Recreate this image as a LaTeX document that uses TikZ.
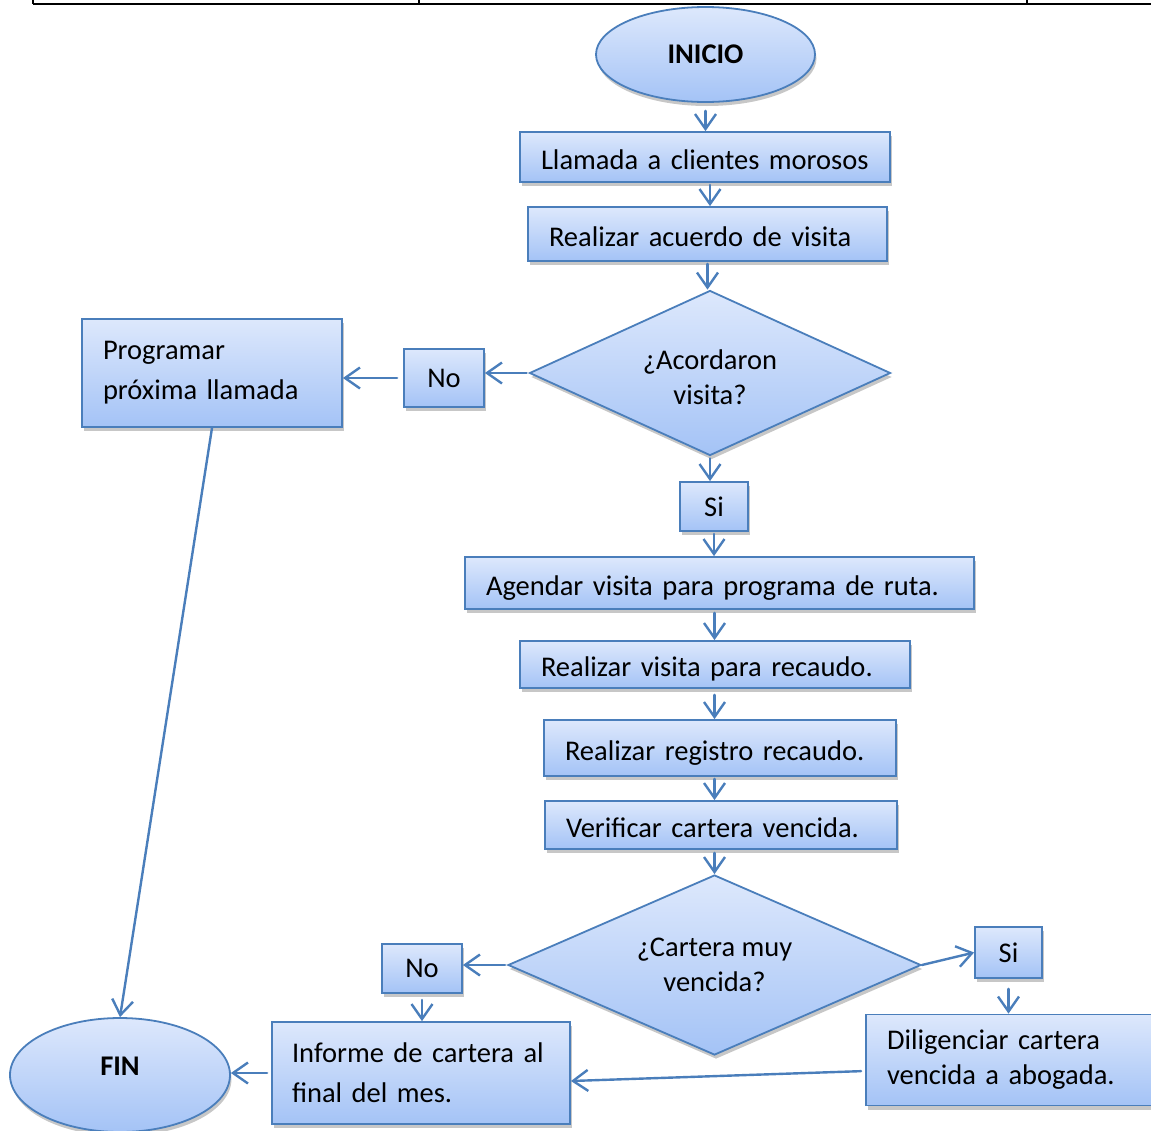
\documentclass[tikz,border=0pt]{standalone}
\usepackage{fontspec}
\setmainfont{Carlito}
\usetikzlibrary{shapes.geometric,arrows.meta,shadows}
\definecolor{edge}{RGB}{74,126,187}
\definecolor{filltop}{RGB}{221,232,252}
\definecolor{fillbot}{RGB}{164,195,246}
\begin{document}
\begin{tikzpicture}[x=1pt,y=-1pt,
  every node/.style={font=\fontsize{28.5}{40}\selectfont},
  base/.style={draw=edge, line width=1.8pt, top color=filltop, bottom color=fillbot,
    drop shadow={shadow xshift=1.5pt, shadow yshift=-4pt, fill=black, opacity=0.22},
    inner sep=0pt},
  proc/.style={base, rectangle, align=left},
  oneline/.style={text height=24pt, text depth=0pt},
  tag/.style={base, rectangle},
  decision/.style={base, diamond, aspect=2.2, align=center, font=\fontsize{28.5}{35}\selectfont},
  terminal/.style={base, ellipse, font=\bfseries\fontsize{28.5}{35}\selectfont},
  arr/.style={draw=edge, line width=2.4pt, line cap=round, line join=round,
    -{Straight Barb[length=15pt,width=21pt]}},
]
\useasboundingbox (0,0) rectangle (1151,1130);

% table border running along the top
\draw[line width=2.2pt] (33,4) -- (1151,4);
\foreach \xx in {33,419,1027} \draw[line width=2pt] (\xx,0) -- (\xx,4);

% start / end
\node[terminal, minimum width=219pt, minimum height=95pt] (inicio) at (705.5,54.5) {INICIO};
\node[terminal, minimum width=220pt, minimum height=114pt, text height=10pt, text depth=10pt] (fin) at (120,1075) {FIN};

% main column
\node[proc, oneline, minimum width=370pt, minimum height=50pt, text width=328pt] (llamada) at (705,157) {\mbox{Llamada a clientes morosos}};
\node[proc, oneline, minimum width=359pt, minimum height=54pt, text width=317pt] (acuerdo) at (707.5,234) {\mbox{Realizar acuerdo de visita}};
\node[decision, minimum width=361pt, minimum height=165pt] (d1) at (710,373) {\rule{0pt}{28pt}¿Acordaron\\visita?};
\node[tag, minimum width=80pt, minimum height=58pt] (no1) at (444,378) {No};
\node[proc, minimum width=260pt, minimum height=108pt, text width=218pt] (prog) at (212,373) {\mbox{Programar}\\\mbox{próxima llamada}};
\node[tag, minimum width=68pt, minimum height=49pt] (si1) at (714,506.5) {Si};
\node[proc, oneline, minimum width=509pt, minimum height=52pt, text width=467pt] (agendar) at (719.5,583) {\mbox{Agendar visita para programa de ruta.}};
\node[proc, oneline, minimum width=390pt, minimum height=47pt, text width=348pt] (rv) at (715,664.5) {\mbox{Realizar visita para recaudo.}};
\node[proc, oneline, minimum width=352pt, minimum height=56pt, text width=310pt] (rr) at (720,748) {\mbox{Realizar registro recaudo.}};
\node[proc, oneline, minimum width=352pt, minimum height=48pt, text width=310pt] (vc) at (721,825) {\mbox{Verificar cartera vencida.}};
\node[decision, minimum width=413pt, minimum height=180pt] (d2) at (714.5,965) {¿Cartera muy\\vencida?};
\node[tag, minimum width=80pt, minimum height=49pt] (no2) at (422,968.5) {No};
\node[proc, minimum width=298pt, minimum height=102pt, text width=258pt] (informe) at (421,1073) {\mbox{Informe de cartera al}\\\mbox{final del mes.}};
\node[tag, minimum width=67pt, minimum height=51pt] (si2) at (1008.5,952.5) {Si};
\node[proc, minimum width=290pt, minimum height=91pt, text width=248pt, font=\fontsize{28.5}{35}\selectfont] (dilig) at (1011,1060) {\mbox{Diligenciar cartera}\\\mbox{vencida a abogada.}};

% connectors
\draw[arr, shorten <=8pt] (inicio.south) -- (inicio.south |- llamada.north);
\draw[arr, shorten <=2pt] ([xshift=5pt]llamada.south) -- ([xshift=5pt]llamada.south |- acuerdo.north);
\draw[arr, shorten <=2pt] (acuerdo.south) -- (acuerdo.south |- d1.north);
\draw[arr, shorten <=2pt] (d1.west) -- (d1.west -| no1.east);
\draw[arr, shorten <=6pt] (no1.west) -- (no1.west -| prog.east);
\draw[arr] (prog.south) -- (fin.north);
\draw[arr, shorten <=2pt] (d1.south) -- (d1.south |- si1.north);
\draw[arr, shorten <=2pt] (si1.south) -- (si1.south |- agendar.north);
\draw[arr, shorten <=3pt] (agendar.south -| d2.north) -- (rv.north -| d2.north);
\draw[arr, shorten <=6pt] (rv.south -| d2.north) -- (rr.north -| d2.north);
\draw[arr, shorten <=2pt] (rr.south -| d2.north) -- (vc.north -| d2.north);
\draw[arr, shorten <=3pt] (vc.south -| d2.north) -- (d2.north);
\draw[arr, shorten <=2pt] (d2.west) -- (d2.west -| no2.east);
\draw[arr, shorten <=6pt] (no2.south) -- (no2.south |- informe.north);
\draw[arr, shorten <=4pt] (informe.west) -- (informe.west -| fin.east);
\draw[arr] (d2.east) -- (si2.west);
\draw[arr, shorten <=10pt] (si2.south) -- (si2.south |- dilig.north);
\draw[arr, shorten <=4pt] ([yshift=-11pt]dilig.west) -- ([yshift=-8pt]informe.east);
\end{tikzpicture}
\end{document}
